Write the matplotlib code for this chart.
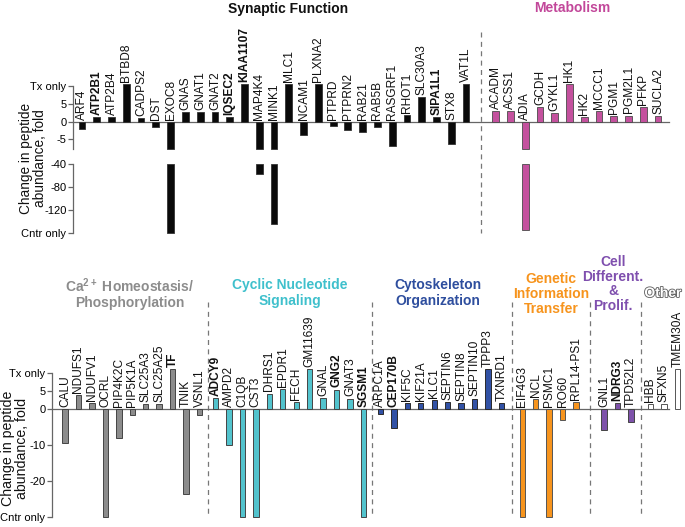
import matplotlib
matplotlib.use('Agg')
import matplotlib.pyplot as plt
import matplotlib.transforms as mtrans
import matplotlib.patheffects as pe
import numpy as np

plt.rcParams['font.family'] = ['Liberation Sans', 'DejaVu Sans']
plt.rcParams['mathtext.fontset'] = 'custom'
plt.rcParams['mathtext.rm'] = 'Liberation Sans'
plt.rcParams['mathtext.bf'] = 'Liberation Sans:bold'

# ---------------- data ----------------
TX_TOP = 10.6      # "Tx only" bar height, top panel
CNTR_TOP = -160    # "Cntr only", top panel
TX_BOT = 11.2      # "Tx only", bottom panel
CNTR_BOT = -30     # "Cntr only", bottom panel

syn_genes = ['ARF4', 'ATP2B1', 'ATP2B4', 'BTBD8', 'CADPS2', 'DST', 'EXOC8', 'GNAS', 'GNAT1',
             'GNAT2', 'IQSEC2', 'KIAA1107', 'MAP4K4', 'MINK1', 'MLC1', 'NCAM1', 'PLXNA2', 'PTPRD',
             'PTPRN2', 'RAB21', 'RAB5B', 'RASGRF1', 'RHOT1', 'SLC30A3', 'SIPA1L1', 'STX8', 'VAT1L']
syn_vals = [-2.2, 1.2, 1.4, TX_TOP, 1.1, -1.4, CNTR_TOP, 2.6, 2.8,
            2.8, 1.2, TX_TOP, -57, -144, TX_TOP, -3.8, TX_TOP, -1.2,
            -2.4, -2.9, -1.6, -6.9, 1.8, 6.9, 1.4, -6.3, TX_TOP]

met_genes = ['ACADM', 'ACSS1', 'ADIA', 'GCDH', 'GYKL1', 'HK1', 'HK2', 'MCCC1', 'PGM1',
             'PGM2L1', 'PFKP', 'SUCLA2']
met_vals = [3.0, 2.9, -155, 4.2, 2.4, TX_TOP, 1.2, 3.0, 1.5, 1.7, 4.0, 1.5]

ca_genes = ['CALU', 'NDUFS1', 'NDUFV1', 'OCRL', 'PIP4K2C', 'PIP5K1A', 'SLC25A3', 'SLC25A25',
            'TF', 'TNIK', 'VSNL1']
ca_vals = [-9.4, 4.0, 1.7, CNTR_BOT, -8.1, -1.6, 1.5, 1.5, TX_BOT, -23.5, -1.6]

cyc_genes = ['ADCY9', 'AMPD2', 'C1QB', 'CST3', 'DHRS1', 'EPDR1', 'FECH', 'GM11639', 'GNAL',
             'GNG2', 'GNAT3', 'SGSM1']
cyc_vals = [3.1, -9.9, CNTR_BOT, CNTR_BOT, 4.3, 5.6, 1.9, TX_BOT, 3.1, 5.4, 2.9, CNTR_BOT]

cyto_genes = ['ARPC1A', 'CEP170B', 'KIF5C', 'KIF21A', 'KLC1', 'SEPTIN6', 'SEPTIN8', 'SEPTIN10',
              'TPPP3', 'TXNRD1']
cyto_vals = [-1.3, -5.3, 1.7, 1.7, 2.6, 1.9, 1.7, 2.9, TX_BOT, 1.7]

gen_genes = ['EIF4G3', 'NCL', 'PSMC1', 'RO60', 'RPL14-PS1']
gen_vals = [CNTR_BOT, 2.8, CNTR_BOT, -3.1, 1.9]

cell_genes = ['GNL1', 'NDRG3', 'TPD52L2']
cell_vals = [-5.9, 1.7, -3.6]

oth_genes = ['HBB', 'SFXN5', 'TMEM30A']
oth_vals = [1.5, 1.5, TX_BOT]

bold_genes = {'ATP2B1', 'IQSEC2', 'KIAA1107', 'SIPA1L1', 'TF', 'ADCY9', 'GNG2', 'SGSM1',
              'CEP170B', 'NDRG3'}

top_ticks = [10, 5, 0, -5]
top_ticklabels = ['Tx only', '5', '0', '-5']
low_ticks = [-40, -80, -120, -160]
low_ticklabels = ['-40', '-80', '-120', 'Cntr only']
bot_ticks = [10, 5, 0, -10, -20, -30]
bot_ticklabels = ['Tx only', '5', '0', '-10', '-20', 'Cntr only']

# ---------------- styles ----------------
AXC = '#666666'
C_SYN, E_SYN = '#0a0a0a', '#333333'
C_MET, E_MET = '#C4519E', '#4a4a4a'
C_CA, E_CA = '#8C8C8C', '#444444'
C_CYC, E_CYC = '#52C3CD', '#444444'
C_CYT, E_CYT = '#3151A5', '#2a2a2a'
C_GEN, E_GEN = '#F7941D', '#555555'
C_CEL, E_CEL = '#7E52AA', '#444444'
C_OTH, E_OTH = '#FFFFFF', '#555555'

W, H = 685, 527
fig = plt.figure(figsize=(W / 100, H / 100), dpi=100)


def fx(px):
    return px / W


def fy(py):
    return 1 - py / H


LABEL_FS = 8.6
TICK_FS = 8


def style_axis(ax, ticks, labels, ylim):
    ax.set_ylim(*ylim)
    for s in ['top', 'right']:
        ax.spines[s].set_visible(False)
    for s in ['left', 'bottom']:
        ax.spines[s].set_color(AXC)
        ax.spines[s].set_linewidth(0.9)
    ax.set_yticks(ticks)
    ax.set_yticklabels(labels)
    ax.tick_params(axis='y', direction='out', length=3.5, width=0.9, color=AXC,
                   labelsize=TICK_FS, pad=1.2)
    ax.tick_params(axis='x', bottom=False, labelbottom=False)
    ax.patch.set_visible(False)


def add_labels(ax, pos, genes, vals):
    for p, g, v in zip(pos, genes, vals):
        ax.annotate(g, (p, max(v, 0)), xytext=(0, 1.5), textcoords='offset points',
                    rotation=90, ha='center', va='bottom', fontsize=LABEL_FS,
                    fontweight='bold' if g in bold_genes else 'normal',
                    annotation_clip=False, color='#111111')


# ---------------- top panel (broken axis) ----------------
UP_LIM = (-7.7, 10)
LO_LIM = (-160.5, -40)
ax_up = fig.add_axes([fx(73), fy(149), fx(669) - fx(73), fy(86) - fy(149)])
ax_lo = fig.add_axes([fx(73), fy(233.3), fx(669) - fx(73), fy(164) - fy(233.3)])
style_axis(ax_up, top_ticks, top_ticklabels, UP_LIM)
style_axis(ax_lo, low_ticks, low_ticklabels, LO_LIM)
ax_up.spines['bottom'].set_position(('data', 0))
ax_up.spines['left'].set_bounds(UP_LIM[0], 10)
ax_lo.spines['bottom'].set_visible(False)
ax_lo.spines['left'].set_bounds(-160, -40)

top_xlim = (-0.61, 39.74)
ax_up.set_xlim(*top_xlim)
ax_lo.set_xlim(*top_xlim)

syn_pos = np.arange(len(syn_genes))
met_pos = np.arange(len(met_genes)) + len(syn_genes) + 1
TOP_W = 0.46

for pos, genes, vals, fc, ec in [(syn_pos, syn_genes, syn_vals, C_SYN, E_SYN),
                                 (met_pos, met_genes, met_vals, C_MET, E_MET)]:
    v = np.array(vals, dtype=float)
    ax_up.bar(pos, np.maximum(v, UP_LIM[0]), width=TOP_W, color=fc, edgecolor=ec,
              linewidth=0.6, clip_on=False, zorder=3)
    deep = v < LO_LIM[1]
    ax_lo.bar(pos[deep], v[deep] - LO_LIM[1], bottom=LO_LIM[1], width=TOP_W, color=fc,
              edgecolor=ec, linewidth=0.6, clip_on=False, zorder=3)
    add_labels(ax_up, pos, genes, vals)

blend_top = mtrans.blended_transform_factory(ax_up.transData, fig.transFigure)
sep_top = (syn_pos[-1] + met_pos[0]) / 2
ax_up.plot([sep_top, sep_top], [fy(32), fy(233)], transform=blend_top, color='#777777',
           lw=0.9, ls=(0, (4, 3.5)), clip_on=False)

# ---------------- bottom panel ----------------
BOT_LIM = (-30, 10)
ax_b = fig.add_axes([fx(52), fy(517), fx(669) - fx(52), fy(373) - fy(517)])
style_axis(ax_b, bot_ticks, bot_ticklabels, BOT_LIM)
ax_b.spines['bottom'].set_position(('data', 0))
ax_b.set_xlim(-0.97, 44.91)

groups = [(ca_genes, ca_vals, C_CA, E_CA),
          (cyc_genes, cyc_vals, C_CYC, E_CYC),
          (cyto_genes, cyto_vals, C_CYT, E_CYT),
          (gen_genes, gen_vals, C_GEN, E_GEN),
          (cell_genes, cell_vals, C_CEL, E_CEL),
          (oth_genes, oth_vals, C_OTH, E_OTH)]
group_shift = [0, 0.19, 0.45, 1.0, 2.09, 2.53]   # extra spacing before each group (layout)
BOT_W = 0.40

start = 0
bounds = []
for (genes, vals, fc, ec), sh in zip(groups, group_shift):
    pos = np.arange(len(genes)) + start + sh
    start += len(genes)
    ax_b.bar(pos, vals, width=BOT_W, color=fc, edgecolor=ec, linewidth=0.7,
             clip_on=False, zorder=3)
    add_labels(ax_b, pos, genes, vals)
    bounds.append((pos[0], pos[-1]))

blend_bot = mtrans.blended_transform_factory(ax_b.transData, fig.transFigure)
for i in range(len(bounds) - 1):
    xs = (bounds[i][1] + bounds[i + 1][0]) / 2
    ax_b.plot([xs, xs], [fy(302), fy(517)], transform=blend_bot, color='#777777',
              lw=0.9, ls=(0, (4, 3.5)), clip_on=False)

# ---------------- titles & axis labels ----------------
TFS = 10
fig.text(fx(288), fy(9), 'Synaptic Function', ha='center', va='center', fontsize=TFS,
         fontweight='bold', color='#111111')
fig.text(fx(572), fy(8), 'Metabolism', ha='center', va='center', fontsize=TFS,
         fontweight='bold', color='#C2479A')
fig.text(fx(130), fy(293), 'Ca$^{\\mathbf{2+}}$ Homeostasis/\nPhosphorylation', ha='center',
         va='center', fontsize=TFS, fontweight='bold', color='#8C8C8C', linespacing=1.1)
fig.text(fx(290), fy(293), 'Cyclic Nucleotide\nSignaling', ha='center', va='center',
         fontsize=TFS, fontweight='bold', color='#3FC0CC', linespacing=1.1)
fig.text(fx(438), fy(293), 'Cytoskeleton\nOrganization', ha='center', va='center',
         fontsize=TFS, fontweight='bold', color='#2E4E9E', linespacing=1.1)
fig.text(fx(551), fy(294), 'Genetic\nInformation\nTransfer', ha='center', va='center',
         fontsize=TFS, fontweight='bold', color='#F7941D', linespacing=1.05)
fig.text(fx(613), fy(284), 'Cell\nDifferent.\n&\nProlif.', ha='center', va='center',
         fontsize=TFS, fontweight='bold', color='#7F4FAE', linespacing=1.05)
fig.text(fx(663), fy(293), 'Other', ha='center', va='center', fontsize=TFS,
         fontweight='bold', color='white',
         path_effects=[pe.withStroke(linewidth=1.3, foreground='#666666')])

fig.text(fx(33), fy(158), 'Change in peptide\nabundance, fold', rotation=90, ha='center',
         va='center', fontsize=9.8, color='#111111', linespacing=1.0)
fig.text(fx(15), fy(448), 'Change in peptide\nabundance, fold', rotation=90, ha='center',
         va='center', fontsize=10.2, color='#111111', linespacing=1.0)

fig.savefig('out.png', dpi=100)
